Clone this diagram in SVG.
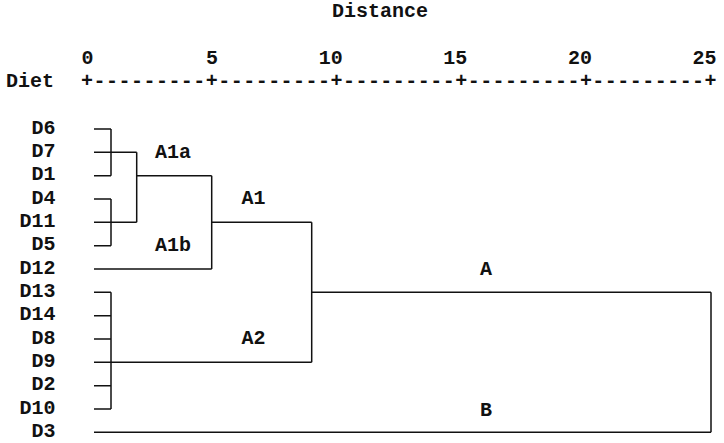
<svg xmlns="http://www.w3.org/2000/svg" width="724" height="443" viewBox="0 0 724 443">
<style>
text{font-family:"Liberation Mono","DejaVu Sans Mono",monospace;font-weight:bold;font-size:20px;fill:#111}
.lbl{text-anchor:end}
.mid{text-anchor:middle}
.ln{fill:none;stroke:#111;stroke-width:1.5}
</style>
<rect width="724" height="443" fill="#fff"/>
<g id="axis">
<text class="mid" x="380" y="17">Distance</text>
<text x="6" y="87">Diet</text>
<text class="lbl" x="93.5" y="64">0</text>
<text class="lbl" x="218" y="64">5</text>
<text class="lbl" x="342.7" y="64">10</text>
<text class="lbl" x="467.3" y="64">15</text>
<text class="lbl" x="592" y="64">20</text>
<text class="lbl" x="716.5" y="64">25</text>
<text x="81.1" y="87" textLength="635.5" lengthAdjust="spacing">+---------+---------+---------+---------+---------+</text>
</g>
<g id="leaves">
<g id="n-D6"><text class="lbl" x="55.5" y="133.5">D6</text></g>
<g id="n-D7"><text class="lbl" x="55.5" y="156.8">D7</text></g>
<g id="n-D1"><text class="lbl" x="55.5" y="180.2">D1</text></g>
<g id="n-D4"><text class="lbl" x="55.5" y="203.5">D4</text></g>
<g id="n-D11"><text class="lbl" x="55.5" y="226.8">D11</text></g>
<g id="n-D5"><text class="lbl" x="55.5" y="250.2">D5</text></g>
<g id="n-D12"><text class="lbl" x="55.5" y="273.5">D12</text></g>
<g id="n-D13"><text class="lbl" x="55.5" y="296.8">D13</text></g>
<g id="n-D14"><text class="lbl" x="55.5" y="320.2">D14</text></g>
<g id="n-D8"><text class="lbl" x="55.5" y="343.5">D8</text></g>
<g id="n-D9"><text class="lbl" x="55.5" y="366.8">D9</text></g>
<g id="n-D2"><text class="lbl" x="55.5" y="390.2">D2</text></g>
<g id="n-D10"><text class="lbl" x="55.5" y="413.5">D10</text></g>
<g id="n-D3"><text class="lbl" x="55.5" y="436.8">D3</text></g>
</g>
<g id="clusters">
<g id="c-A1a"><text x="155" y="157.5">A1a</text></g>
<g id="c-A1b"><text x="155" y="251">A1b</text></g>
<g id="c-A1"><text x="241.5" y="204.3">A1</text></g>
<g id="c-A2"><text x="241.5" y="344">A2</text></g>
<g id="c-A"><text x="480" y="275">A</text></g>
<g id="c-B"><text x="480" y="415.5">B</text></g>
</g>
<g id="connectors" class="ln">
<path class="ln" d="M94,129H111M94,152.3H111M94,175.7H111M111,129V175.7M111,152.3H136.7"/>
<path class="ln" d="M94,199H111M94,222.3H111M94,245.7H111M111,199V245.7M111,222.3H136.7"/>
<path class="ln" d="M136.7,152.3V222.3M136.7,175.7H211.7"/>
<path class="ln" d="M94,269H211.7M211.7,175.7V269M211.7,222.3H311.7"/>
<path class="ln" d="M94,292.3H111M94,315.7H111M94,339H111M94,362.3H111M94,385.7H111M94,409H111M111,292.3V409M111,362.3H311.7"/>
<path class="ln" d="M311.7,222.3V362.3M311.7,292.3H711M711,292.3V432.3M94,432.3H711"/>
</g>
</svg>
